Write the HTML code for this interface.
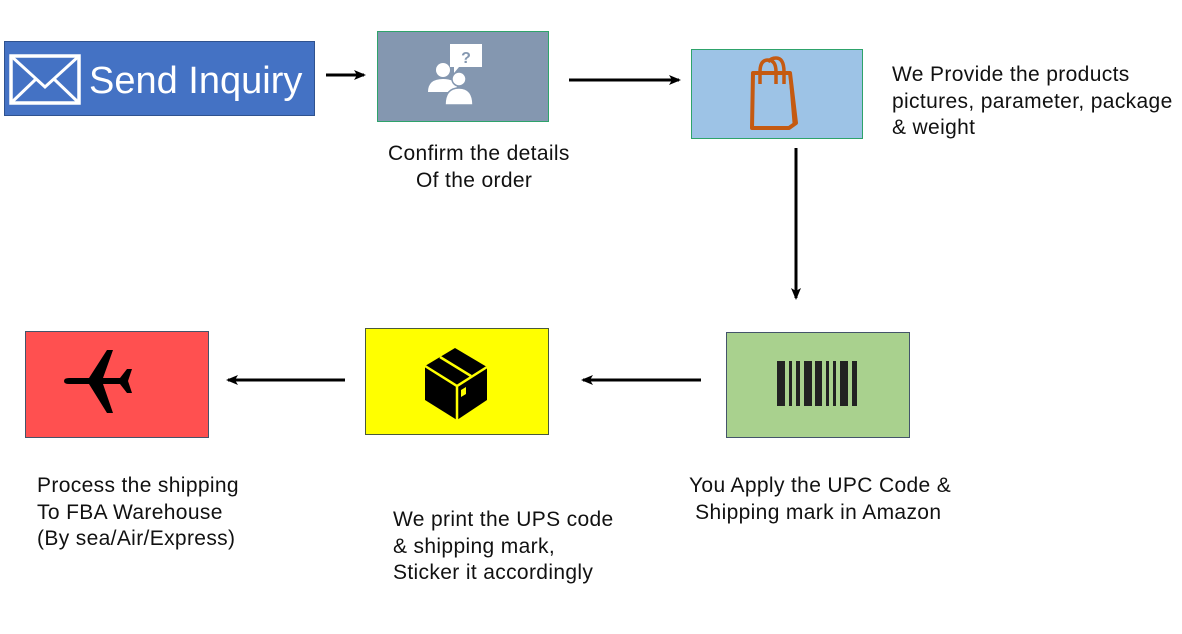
<!DOCTYPE html>
<html><head><meta charset="utf-8"><style>
body{margin:0;width:1182px;height:634px;background:#fff;position:relative;overflow:hidden;font-family:"Liberation Sans","Noto Sans CJK SC",sans-serif;color:#111}
.t{position:absolute;font-size:21px;letter-spacing:0.35px;line-height:26.7px;white-space:nowrap}
svg{position:absolute;left:0;top:0}
</style></head><body>
<svg width="1182" height="634" viewBox="0 0 1182 634">
<defs><marker id="a" markerWidth="12" markerHeight="10" refX="10" refY="5" orient="auto" markerUnits="userSpaceOnUse"><path d="M0,0 L12,5 L0,10 L3,5z" fill="#000"/></marker></defs>
<rect x="4.5" y="41.5" width="310" height="74" fill="#4472c4" stroke="#2f528f"/>
<rect x="11" y="56" width="68" height="47" fill="none" stroke="#fff" stroke-width="3.5"/>
<path d="M11,56 L45,87 L79,56 M11,103 L36,79 M79,103 L54,79" fill="none" stroke="#fff" stroke-width="3"/>
<text x="89" y="93" font-size="38" fill="#fff" font-family="Liberation Sans,sans-serif">Send Inquiry</text>
<rect x="377.5" y="31.5" width="171" height="90" fill="#8497b0" stroke="#2ea36b"/>
<path d="M450,44 h32 v23 h-23 l-5,6 v-6 h-4z" fill="#fff"/>
<text x="466" y="63" font-size="16" fill="#8497b0" text-anchor="middle" font-weight="bold">?</text>
<circle cx="443" cy="70" r="7" fill="#fff"/>
<path d="M428,92 q0,-13 15,-13 q12,0 14,8 l-8,5z" fill="#fff"/>
<circle cx="459" cy="79" r="7" fill="#fff" stroke="#8497b0" stroke-width="1.5"/>
<path d="M445,105 q0,-17 14,-17 q14,0 14,17z" fill="#fff" stroke="#8497b0" stroke-width="1.5"/>
<rect x="691.5" y="49.5" width="171" height="89" fill="#9dc3e6" stroke="#2ea36b"/>
<path d="M753,73 h37 l6,50 l-7,5 h-37z" fill="none" stroke="#c55a11" stroke-width="4" stroke-linejoin="round"/>
<path d="M790,73 l4,50" stroke="#c55a11" stroke-width="3"/>
<path d="M760,84 v-12 q0,-12 8,-12 q8,0 8,12 v12 M768,62 q3,-4 8,-4 q8,0 8,14 v12" fill="none" stroke="#c55a11" stroke-width="3.5"/>
<line x1="326" y1="75" x2="364" y2="75" stroke="#000" stroke-width="3" marker-end="url(#a)"/>
<line x1="569" y1="80" x2="679" y2="80" stroke="#000" stroke-width="3" marker-end="url(#a)"/>
<line x1="796" y1="148" x2="796" y2="298" stroke="#000" stroke-width="3" marker-end="url(#a)"/>
<rect x="726.5" y="332.5" width="183" height="105" fill="#a9d18e" stroke="#44546a"/>
<g fill="#222">
<rect x="777" y="361" width="8" height="45"/><rect x="789" y="361" width="3" height="45"/><rect x="796" y="361" width="4" height="45"/><rect x="804" y="361" width="8" height="45"/><rect x="815" y="361" width="7" height="45"/><rect x="826" y="361" width="3" height="45"/><rect x="833" y="361" width="3" height="45"/><rect x="840" y="361" width="8" height="45"/><rect x="852" y="361" width="5" height="45"/>
</g>
<rect x="365.5" y="328.5" width="183" height="106" fill="#ffff00" stroke="#4a5a3a"/>
<path d="M425,366 l30,-18 l32,19 v33 l-30,20 l-32,-20z" fill="#000"/>
<path d="M425,366 l32,20 l30,-19 M457,386 v34 M440,357 l31,19" fill="none" stroke="#ffff00" stroke-width="2.5"/>
<path d="M461,390 l5,-3 v7 l-5,3z" fill="#ffff00"/>
<rect x="25.5" y="331.5" width="183" height="106" fill="#ff5050" stroke="#44546a"/>
<path d="M64,381 q0,-3 5,-3 h20 l18,-28 h6 l-10,28 h17 l7,-9 h5 l-4,12 l4,12 h-5 l-7,-9 h-17 l10,29 h-6 l-18,-29 h-20 q-5,0 -5,-3z" fill="#000"/>
<line x1="701" y1="380" x2="583" y2="380" stroke="#000" stroke-width="3" marker-end="url(#a)"/>
<line x1="345" y1="380" x2="228" y2="380" stroke="#000" stroke-width="3" marker-end="url(#a)"/>
</svg>
<div class="t" style="left:388px;top:141px">Confirm the details</div>
<div class="t" style="left:416px;top:168px">Of the order</div>
<div class="t" style="left:892px;top:62px">We Provide the products<br>pictures, parameter, package<br>&amp; weight</div>
<div class="t" style="left:689px;top:473px">You Apply the UPC Code &amp;<br>&nbsp;Shipping mark in Amazon</div>
<div class="t" style="left:37px;top:473px">Process the shipping<br>To FBA Warehouse<br>(By sea/Air/Express)</div>
<div class="t" style="left:393px;top:507px">We print the UPS code<br>&amp; shipping mark,<br>Sticker it accordingly</div>
</body></html>
